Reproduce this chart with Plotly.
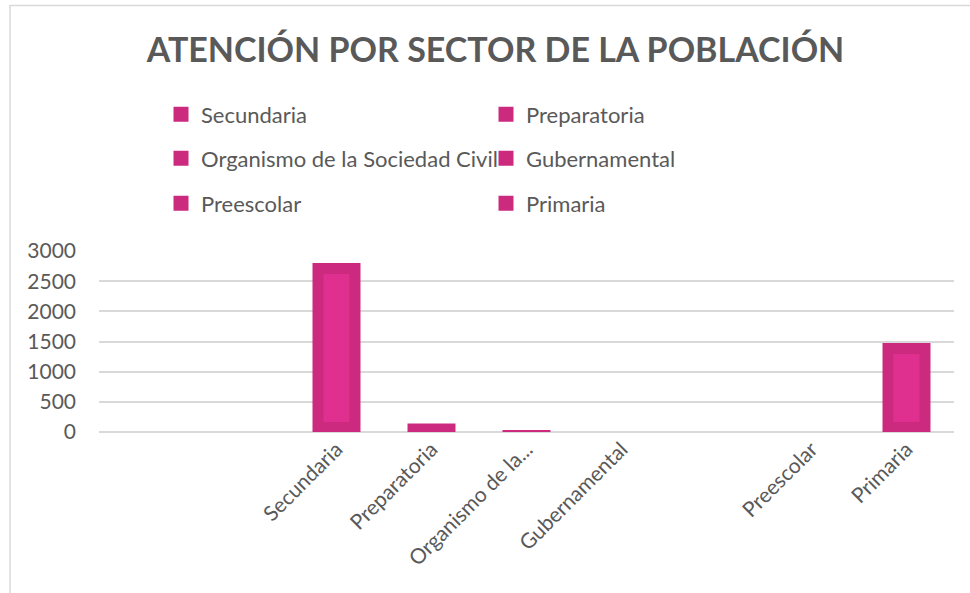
import plotly.graph_objects as go

# ---- data ----
SECTORS = ["Secundaria", "Preparatoria", "Organismo de la Sociedad Civil",
           "Gubernamental", "Preescolar", "Primaria"]
ATTENDED = [2800, 140, 25, 0, 0, 1475]
AXIS_SLOTS = [" ", "  ", "Secundaria", "Preparatoria", "Organismo de la Sociedad Civil",
              "Gubernamental", "   ", "Preescolar", "Primaria"]
TICK_LABELS = ["", "", "Secundaria", "Preparatoria", "Organismo de la...",
               "Gubernamental", "", "Preescolar", "Primaria"]
Y_TICKS = [0, 500, 1000, 1500, 2000, 2500, 3000]
TITLE = "ATENCIÓN POR SECTOR DE LA POBLACIÓN"

# ---- style ----
W, H = 970, 593
M_L, M_R, M_T, M_B = 99, 16, 251, 161
PLOT_W = W - M_L - M_R
PLOT_H = H - M_T - M_B
Y_MAX = 3000
DARK = "#CC2A7E"
LIGHT = "#E0308F"
TEXT = "#595959"
GRID = "#D9D9D9"
FONT = "Lato"
INSET_TOP_PX, INSET_BOT_PX = 11, 10
units_per_px = Y_MAX / PLOT_H

inner_base, inner_len = [], []
for v in ATTENDED:
    if v / units_per_px > INSET_TOP_PX + INSET_BOT_PX + 4:
        inner_base.append(INSET_BOT_PX * units_per_px)
        inner_len.append(v - (INSET_TOP_PX + INSET_BOT_PX) * units_per_px)
    else:
        inner_base.append(None)
        inner_len.append(None)

fig = go.Figure()
fig.add_trace(go.Bar(x=SECTORS, y=ATTENDED, width=0.505, marker=dict(color=DARK, line=dict(width=0)),
                     showlegend=False, name="Atención"))
fig.add_trace(go.Bar(x=SECTORS, y=inner_len, base=inner_base, width=0.274,
                     marker=dict(color=LIGHT, line=dict(width=0)),
                     showlegend=False, hoverinfo="skip"))

legend_ids = ["legend", "legend", "legend2", "legend2", "legend3", "legend3"]
for name, lg in zip(SECTORS, legend_ids):
    fig.add_trace(go.Bar(x=[None], y=[None], name=name, legend=lg,
                         marker=dict(color=DARK, line=dict(color=DARK, width=3))))

def px_to_paper_y(py):
    return (H - M_B - py) / PLOT_H

def px_to_paper_x(px):
    return (px - M_L) / PLOT_W

leg_common = dict(orientation="h", xanchor="left", yanchor="middle",
                  x=px_to_paper_x(161), entrywidth=280, entrywidthmode="pixels",
                  font=dict(family=FONT, size=22, color=TEXT),
                  bgcolor="rgba(0,0,0,0)", traceorder="normal")

fig.update_layout(
    width=W, height=H,
    margin=dict(l=M_L, r=M_R, t=M_T, b=M_B),
    paper_bgcolor="white", plot_bgcolor="white",
    barmode="overlay",
    title=dict(text="<b>" + TITLE + "</b>", x=495.5 / W, xanchor="center",
               y=1 - 50 / H, yanchor="middle", yref="container",
               font=dict(family=FONT, size=34, color=TEXT)),
    legend=dict(leg_common, y=px_to_paper_y(114.5)),
    legend2=dict(leg_common, y=px_to_paper_y(158.5)),
    legend3=dict(leg_common, y=px_to_paper_y(203.5)),
    xaxis=dict(type="category", categoryorder="array", categoryarray=AXIS_SLOTS,
               tickvals=AXIS_SLOTS, ticktext=TICK_LABELS, range=[-0.5, len(AXIS_SLOTS) - 0.5],
               tickangle=-45, tickfont=dict(family=FONT, size=21, color=TEXT),
               showgrid=False, showline=False, ticks=""),
    yaxis=dict(range=[0, Y_MAX], tickvals=Y_TICKS, showgrid=True, gridcolor=GRID, gridwidth=1.5,
               zeroline=True, zerolinecolor=GRID, zerolinewidth=1.5, showline=False,
               ticks="", ticklabelstandoff=22,
               tickfont=dict(family=FONT, size=21, color=TEXT)),
    shapes=[
        dict(type="line", xref="paper", yref="paper",
             x0=px_to_paper_x(10), x1=px_to_paper_x(W + 5),
             y0=px_to_paper_y(5.5), y1=px_to_paper_y(5.5),
             line=dict(color=GRID, width=1.5)),
        dict(type="line", xref="paper", yref="paper",
             x0=px_to_paper_x(10), x1=px_to_paper_x(10),
             y0=px_to_paper_y(5), y1=px_to_paper_y(H + 5),
             line=dict(color=GRID, width=1.5)),
    ],
)

fig.write_html("out.html", config={"displayModeBar": False},
               post_script="document.body.style.margin='0';")
